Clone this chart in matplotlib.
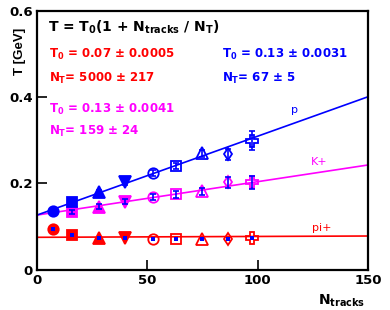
import numpy as np
import matplotlib
matplotlib.use("Agg")
import matplotlib.pyplot as plt

# data
n_tracks = [7, 16, 28, 40, 52.5, 62.8, 74.5, 86.3, 97.3]
markers = ["o", "s", "^", "v", "o", "s", "^", "d", "P"]
filled = [True, True, True, True, False, False, False, False, False]

t_pion = [0.094, 0.080, 0.074, 0.074, 0.072, 0.072, 0.070, 0.071, 0.073]
e_pion = [0.002, 0.002, 0.002, 0.002, 0.002, 0.002, 0.002, 0.002, 0.002]

# kaon: first point hidden under the proton one
t_kaon = [None, 0.134, 0.146, 0.157, 0.168, 0.175, 0.182, 0.202, 0.202]
e_kaon = [0.0, 0.005, 0.005, 0.006, 0.007, 0.008, 0.008, 0.012, 0.015]

t_prot = [0.136, 0.157, 0.180, 0.202, 0.223, 0.240, 0.270, 0.267, 0.299]
e_prot = [0.003, 0.004, 0.005, 0.006, 0.007, 0.008, 0.008, 0.012, 0.022]

# fit lines (end points)
fit_x = [0, 150]
fit_pion = [0.075, 0.078]
fit_kaon = [0.1265, 0.2425]
fit_prot = [0.1265, 0.4005]

red, mag, blue = "#ff0000", "#ff00ff", "#0000ff"

plt.rcParams["font.family"] = ["DejaVu Sans"]
plt.rcParams["mathtext.default"] = "bf"

fig = plt.figure(figsize=(3.9, 3.1), dpi=100)
ax = fig.add_axes([0.095, 0.130, 0.849, 0.836])

ax.plot(fit_x, fit_pion, color=red, lw=1.2, zorder=1)
ax.plot(fit_x, fit_kaon, color=mag, lw=1.2, zorder=1)
ax.plot(fit_x, fit_prot, color=blue, lw=1.2, zorder=1)

sizes = {"o": 7.5, "s": 7.5, "^": 8, "v": 8, "d": 6.5, "P": 8}


def draw_set(ys, errs, col, dots=False):
    for x, y, e, m, f in zip(n_tracks, ys, errs, markers, filled):
        if y is None:
            continue
        ax.plot(x, y, marker=m, ms=sizes[m], color=col,
                mfc=col if f else "none", mew=1.3, zorder=3)
        if e > 0.003:
            ax.errorbar(x, y, yerr=e, color=blue, capsize=2.5, lw=1.2,
                        capthick=1.2, zorder=4)
        if dots:
            ax.plot(x, y, marker="s", ms=2.5, color=blue, mew=0, zorder=4)


draw_set(t_pion, e_pion, red, dots=True)
draw_set(t_kaon, e_kaon, mag)
draw_set(t_prot, e_prot, blue)

ax.set_xlim(0, 150)
ax.set_ylim(0, 0.6)
ax.set_xticks([0, 50, 100, 150])
ax.set_yticks([0, 0.2, 0.4, 0.6])
ax.set_yticklabels(["0", "0.2", "0.4", "0.6"])
ax.tick_params(direction="in", length=7, width=1.2, labelsize=9.5, pad=3)
for lab in ax.get_xticklabels() + ax.get_yticklabels():
    lab.set_fontweight("bold")
for s in ax.spines.values():
    s.set_linewidth(1.6)

# formula and fit results
ax.text(5, 0.561, r"T = T$_0$(1 + N$_{tracks}$ / N$_T$)", fontsize=10,
        fontweight="bold", va="center")
ax.text(5.5, 0.499, "T$_0$ = 0.07 ± 0.0005", color=red, fontsize=8.5,
        fontweight="bold", va="center")
ax.text(5.5, 0.443, "N$_T$= 5000 ± 217", color=red, fontsize=8.5,
        fontweight="bold", va="center")
ax.text(84, 0.499, "T$_0$ = 0.13 ± 0.0031", color=blue, fontsize=8.5,
        fontweight="bold", va="center")
ax.text(84, 0.443, "N$_T$= 67 ± 5", color=blue, fontsize=8.5,
        fontweight="bold", va="center")
ax.text(5.5, 0.370, "T$_0$ = 0.13 ± 0.0041", color=mag, fontsize=8.5,
        fontweight="bold", va="center")
ax.text(5.5, 0.321, "N$_T$= 159 ± 24", color=mag, fontsize=8.5,
        fontweight="bold", va="center")

ax.text(116.5, 0.370, "p", color=blue, fontsize=8, va="center", ha="center")
ax.text(128, 0.249, "K+", color=mag, fontsize=8, va="center", ha="center")
ax.text(129, 0.096, "pi+", color=red, fontsize=8, va="center", ha="center")

fig.text(318 / 390, 1 - 301 / 310, r"N$_{tracks}$", fontsize=10,
         fontweight="bold", ha="left", va="center")
fig.text(20 / 390, 1 - 51 / 310, "T [GeV]", fontsize=9.5, rotation=90,
         ha="center", va="center", family="Liberation Sans", fontweight="bold")

fig.savefig("out.png", dpi=100)
